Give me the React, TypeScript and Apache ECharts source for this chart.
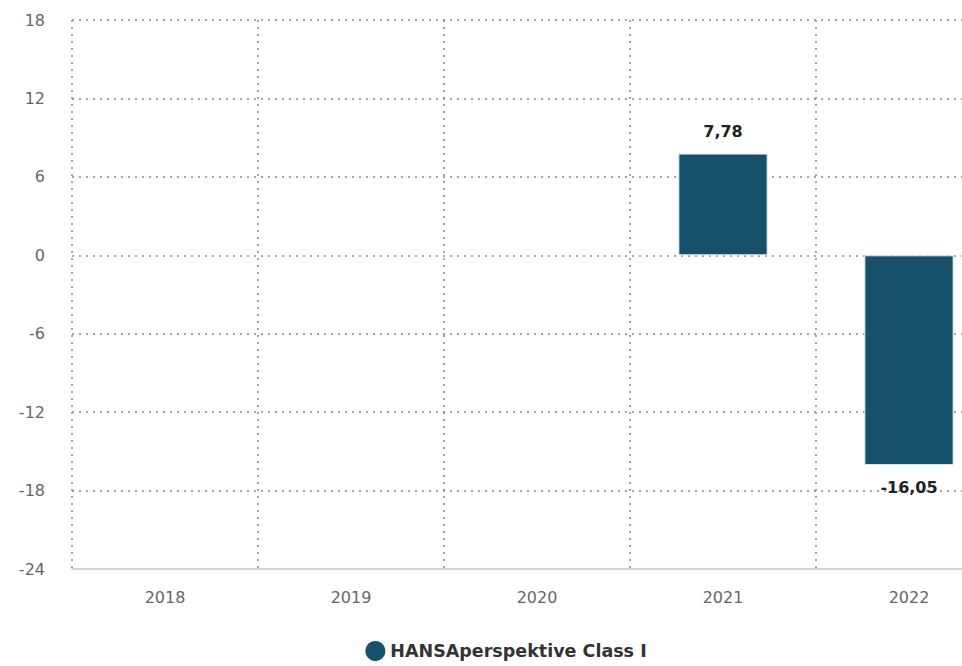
import React, { useEffect, useRef } from "react";
import * as echarts from "echarts";

const categories = ["2018", "2019", "2020", "2021", "2022"];
const seriesName = "HANSAperspektive Class I";
const values: (number | null)[] = [null, null, null, 7.78, -16.05];
const yMin = -24;
const yMax = 18;
const yInterval = 6;

export default function App() {
  const ref = useRef<HTMLDivElement>(null);
  useEffect(() => {
    if (!ref.current) return;
    const chart = echarts.init(ref.current, undefined, { renderer: "svg" });
    const font = "DejaVu Sans";
    chart.setOption({
      animation: false,
      textStyle: { fontFamily: font },
      grid: { left: 72, top: 20, width: 930, height: 549, containLabel: false },
      legend: {
        bottom: 0,
        left: "center",
        icon: "circle",
        itemWidth: 20,
        itemHeight: 20,
        itemGap: 10,
        itemStyle: { borderWidth: 0 },
        textStyle: { fontSize: 17.5, fontWeight: "bold", color: "#333", fontFamily: font },
        data: [seriesName],
      },
      xAxis: {
        type: "category",
        data: categories,
        axisLine: { show: true, onZero: false, lineStyle: { color: "#ccd6eb", width: 2 } },
        axisTick: { show: false },
        axisLabel: { fontSize: 16, color: "#666", margin: 20, fontFamily: font },
        splitLine: { show: true, lineStyle: { type: [2, 5], color: "#888", width: 1.5 } },
      },
      yAxis: {
        type: "value",
        min: yMin,
        max: yMax,
        interval: yInterval,
        axisLine: { show: false },
        axisTick: { show: false },
        axisLabel: { fontSize: 16, color: "#666", margin: 27, fontFamily: font },
        splitLine: { show: true, lineStyle: { type: [2, 5], color: "#888", width: 1.5 } },
      },
      series: [
        {
          name: seriesName,
          type: "bar",
          barWidth: "48%",
          itemStyle: { color: "#16506b", borderColor: "#dfe8ee", borderWidth: 1 },
          data: values.map((v) =>
            v === null
              ? null
              : {
                  value: v,
                  label: {
                    show: true,
                    position: v >= 0 ? "top" : "bottom",
                    distance: 14,
                    fontSize: 16,
                    fontWeight: "bold",
                    color: "#222",
                    fontFamily: font,
                    formatter: (p: any) => String(p.value.toFixed(2)).replace(".", ","),
                  },
                }
          ),
        },
      ],
    });
    return () => chart.dispose();
  }, []);
  return (
    <div style={{ position: "fixed", left: 0, top: 0, width: 962, height: 666, overflow: "hidden", background: "#fff" }}>
      <div ref={ref} style={{ width: 1012, height: 666 }} />
    </div>
  );
}
